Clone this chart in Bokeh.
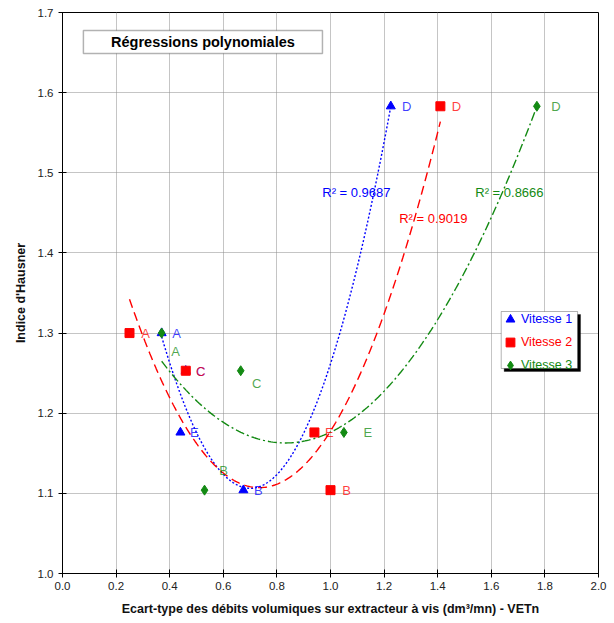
import numpy as np
from bokeh.plotting import figure
from bokeh.models import (Range1d, FixedTicker, NumeralTickFormatter, ColumnDataSource,
                          BoxAnnotation, Label, Legend, LegendItem)
from bokeh.core.properties import value
from bokeh.embed import file_html
from bokeh.resources import INLINE

# ---------------- data ----------------
point_names = ["A", "C", "E", "B", "D"]
v1_x = [0.37, 0.46, 0.44, 0.675, 1.225]
v1_y = [1.300, 1.253, 1.176, 1.104, 1.583]
v2_x = [0.25, 0.46, 0.94, 1.00, 1.41]
v2_y = [1.300, 1.253, 1.176, 1.104, 1.583]
v3_x = [0.37, 0.665, 1.05, 0.53, 1.77]
v3_y = [1.300, 1.253, 1.176, 1.104, 1.583]
series_names = ["Vitesse 1", "Vitesse 2", "Vitesse 3"]
r2_texts = ["R² = 0.9687", "R² = 0.9019", "R² = 0.8666"]
x_ticks = [0.0, 0.2, 0.4, 0.6, 0.8, 1.0, 1.2, 1.4, 1.6, 1.8, 2.0]
y_ticks = [1.0, 1.1, 1.2, 1.3, 1.4, 1.5, 1.6, 1.7]
title_text = "Régressions polynomiales"
x_title = "Ecart-type des débits volumiques sur extracteur à vis (dm³/mn) - VETn"
y_title = "Indice d'Hausner"

# ---------------- styles ----------------
FONT = "Liberation Sans"
colors = ["#0000FF", "#FF0000", "#138A13"]
markers = ["triangle", "square", "diamond"]
marker_sizes = [9, 9, 10]
dashes = ["2 2", "9 5", "9 3 2 3"]
# per-point label offsets (pixels), order A, C, E, B, D
lab_dx = [[15, 15, 14, 15, 16], [16, 15, 15, 16, 16], [14, 16, 24, 19, 19]]
lab_dy = [[0, 1, 0, 0, 0], [0, 1, 0, 0, 0], [18, 13, 0, -20, 0]]
r2_pos = [(1.224, 1.4754), (1.511, 1.443), (1.795, 1.4754)]

p = figure(width=614, height=623, output_backend="svg", toolbar_location=None,
           x_range=Range1d(0, 2), y_range=Range1d(1.0, 1.7),
           min_border_left=62, min_border_right=16, min_border_top=12, min_border_bottom=50,
           background_fill_color="white", border_fill_color="white")
p.outline_line_color = "black"
p.outline_line_width = 1

for ax in (p.xaxis, p.yaxis):
    ax.major_label_text_font = FONT
    ax.major_label_text_font_size = "11.5px"
    ax.major_label_text_color = "#222222"
    ax.axis_label_text_font = FONT
    ax.axis_label_text_font_size = "12.5px"
    ax.axis_label_text_font_style = "bold"
    ax.axis_label_text_color = "#111111"
    ax.axis_line_color = "black"
    ax.major_tick_line_color = "black"
    ax.major_tick_in = 4
    ax.major_tick_out = 4
    ax.minor_tick_line_color = None
    ax.formatter = NumeralTickFormatter(format="0.0")
p.xaxis.ticker = FixedTicker(ticks=x_ticks)
p.yaxis.ticker = FixedTicker(ticks=y_ticks)
p.xaxis.axis_label = x_title
p.yaxis.axis_label = y_title
p.xaxis.major_label_standoff = 4
p.xaxis.axis_label_standoff = 9
p.yaxis.axis_label_standoff = 7

for g in (p.xgrid, p.ygrid):
    g.grid_line_color = "#8a8a8a"
    g.grid_line_dash = "1 1"
    g.grid_line_width = 1

# title box
p.add_layout(BoxAnnotation(left=0.078, right=0.970, top=1.6775, bottom=1.6488,
                           fill_color="white", fill_alpha=1, line_color="black", line_width=1.5))
p.add_layout(Label(x=0.524, y=1.6632, text=title_text, text_font=FONT, text_font_size="14.5px",
                   text_font_style="bold", text_align="center", text_baseline="middle",
                   text_color="black"))

all_x = [v1_x, v2_x, v3_x]
all_y = [v1_y, v2_y, v3_y]
renderers = []
for i in range(3):
    xs = np.array(all_x[i]); ys = np.array(all_y[i])
    coef = np.polyfit(xs, ys, 2)
    fx = np.linspace(xs.min(), xs.max(), 200)
    fy = np.polyval(coef, fx)
    p.line(fx, fy, line_color=colors[i], line_dash=dashes[i], line_width=1.4)

for i in range(3):
    src = ColumnDataSource(dict(x=all_x[i], y=all_y[i], name=point_names,
                                dx=lab_dx[i], dy=lab_dy[i]))
    r = p.scatter("x", "y", source=src, marker=markers[i], size=marker_sizes[i],
                  fill_color=colors[i], line_color=colors[i])
    renderers.append(r)
    p.text("x", "y", text="name", source=src, x_offset="dx", y_offset="dy",
           text_color=colors[i], text_font=value(FONT), text_font_size="13px",
           text_align="center", text_baseline="middle", text_alpha=0.75)

for i in range(3):
    p.add_layout(Label(x=r2_pos[i][0], y=r2_pos[i][1], text=r2_texts[i], text_font=FONT,
                       text_font_size="13px", text_color=colors[i], text_align="right",
                       text_baseline="middle"))

# legend box with shadow
p.add_layout(BoxAnnotation(left=1.648, right=1.933, top=1.3232, bottom=1.2521,
                           fill_color="black", fill_alpha=1, line_color="black"))
p.add_layout(BoxAnnotation(left=1.637, right=1.922, top=1.3269, bottom=1.2558,
                           fill_color="white", fill_alpha=1, line_color="black", line_width=1))
legend_bottoms = [243, 220, 197]
for i in range(3):
    lg = Legend(items=[LegendItem(label=series_names[i], renderers=[renderers[i]])],
                location=(437, legend_bottoms[i]), border_line_color=None,
                background_fill_alpha=0, margin=0, padding=0, spacing=0,
                glyph_width=22, glyph_height=22, label_standoff=0,
                label_text_font=FONT, label_text_font_size="12.5px",
                label_text_color=colors[i], label_height=14)
    p.add_layout(lg)

open("out.html", "w").write(file_html(p, INLINE))
